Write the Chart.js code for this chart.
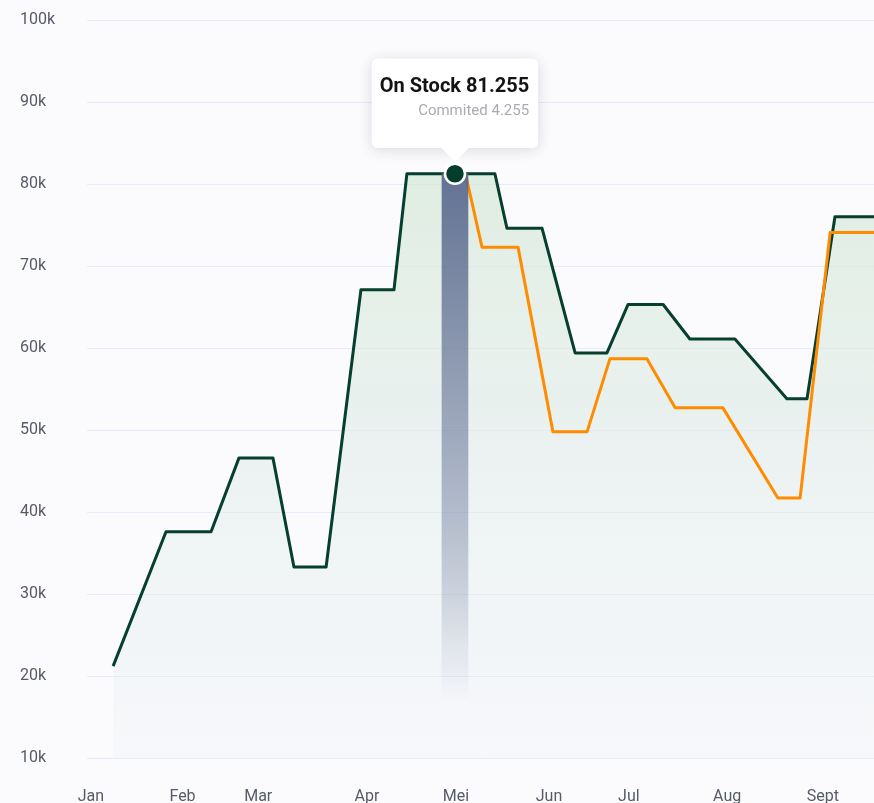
<!DOCTYPE html>
<html>
<head>
<meta charset="utf-8">
<title>Stock</title>
<script src="https://cdn.jsdelivr.net/npm/chart.js@4"></script>
<style>
  html, body { margin: 0; padding: 0; background: #fbfbfd; overflow: hidden; }
  .wrap { width: 874px; height: 803px; position: relative; }
</style>
</head>
<body>
<div class="wrap"><canvas id="stockChart"></canvas></div>
<script>
// x values are day numbers, y values are in thousands
const monthLabels = ["Jan", "Feb", "Mar", "Apr", "Mei", "Jun", "Jul", "Aug", "Sept"]
const monthDays = [1.3, 31.8, 57, 93.2, 122.8, 153.8, 180.4, 213.1, 245]

const stockDays = [8.7, 26.3, 41.3, 50.6, 61.9, 68.9, 79.6, 91.2, 102.2, 106.5, 122.5, 135.8, 139.8, 151.5,
  162.5, 173.1, 180.1, 191.8, 200.7, 215.7, 233, 239.7, 249, 262]
const stockValues = [21.2, 37.6, 37.6, 46.6, 46.6, 33.3, 33.3, 67.1, 67.1, 81.255, 81.255, 81.255, 74.6, 74.6,
  59.4, 59.4, 65.3, 65.3, 61.1, 61.1, 53.8, 53.8, 76, 76]

const committedDays = [126, 131.5, 143.5, 155.1, 166.5, 174.1, 186.4, 195.8, 211.7, 230, 237.4, 247.4, 262]
const committedValues = [81.255, 72.3, 72.3, 49.8, 49.8, 58.7, 58.7, 52.7, 52.7, 41.7, 41.7, 74.1, 74.1]

// highlighted day (Mei)
const highlightDay = 122.5
const highlightStock = 81.255
const highlightCommitted = 4.255
const highlightBase = 17

const toPoints = (xs, ys) => xs.map((x, i) => ({ x: x, y: ys[i] }))

const fontFamily = "Roboto, 'Noto Sans', sans-serif"

function stockFill(context) {
  const chart = context.chart
  const area = chart.chartArea
  if (!area) return "rgba(220,235,220,0.5)"
  const g = chart.ctx.createLinearGradient(0, area.top, 0, area.bottom)
  g.addColorStop(0, "rgba(208,230,204,0.8)")
  g.addColorStop(0.5, "rgba(220,234,228,0.6)")
  g.addColorStop(1, "rgba(232,238,244,0.25)")
  return g
}

function highlightFill(context) {
  const chart = context.chart
  if (!chart.chartArea) return "rgba(88,102,142,0.8)"
  const y = chart.scales.y
  const g = chart.ctx.createLinearGradient(0, y.getPixelForValue(highlightStock), 0, y.getPixelForValue(highlightBase))
  g.addColorStop(0, "rgba(86,100,140,0.9)")
  g.addColorStop(0.7, "rgba(86,100,140,0.35)")
  g.addColorStop(1, "rgba(86,100,140,0)")
  return g
}

// soft shadow behind the tooltip box
const tooltipShadow = {
  id: "tooltipShadow",
  beforeTooltipDraw(chart, args) {
    const t = args.tooltip
    if (!t.opacity) return
    const ctx = chart.ctx
    ctx.save()
    ctx.shadowColor = "rgba(30,40,60,0.16)"
    ctx.shadowBlur = 14
    ctx.shadowOffsetY = 2
    ctx.fillStyle = "#fff"
    ctx.beginPath()
    ctx.roundRect(t.x, t.y, t.width, t.height, 6)
    ctx.fill()
    ctx.restore()
  }
}

const ctx = document.getElementById("stockChart")

const myChart = new Chart(ctx, {
  type: "line",
  data: {
    datasets: [
      {
        type: "scatter",
        data: [{ x: highlightDay, y: highlightStock }],
        pointRadius: 10,
        pointHoverRadius: 10,
        pointBackgroundColor: "#043d2c",
        pointBorderColor: "#ffffff",
        pointBorderWidth: 2.5,
        pointHoverBorderWidth: 2.5,
        order: 0
      },
      {
        type: "bar",
        data: [{ x: highlightDay, y: [highlightBase, highlightStock] }],
        backgroundColor: highlightFill,
        barThickness: 26,
        borderWidth: 0,
        order: 1
      },
      {
        label: "Commited",
        data: toPoints(committedDays, committedValues),
        borderColor: "#ff8c00",
        borderWidth: 3,
        borderJoinStyle: "round",
        pointRadius: 0,
        tension: 0,
        fill: false,
        order: 2
      },
      {
        label: "On Stock",
        data: toPoints(stockDays, stockValues),
        borderColor: "#063f2e",
        borderWidth: 3,
        borderJoinStyle: "round",
        pointRadius: 0,
        tension: 0,
        fill: "start",
        backgroundColor: stockFill,
        order: 3
      }
    ]
  },
  options: {
    responsive: true,
    maintainAspectRatio: false,
    animation: false,
    events: [],
    layout: { autoPadding: false, padding: { top: 20, left: 20, right: 0, bottom: 0 } },
    plugins: {
      legend: { display: false },
      tooltip: {
        backgroundColor: "#ffffff",
        titleColor: "#141414",
        titleFont: { family: fontFamily, size: 20, weight: "bold" },
        bodyColor: "#a8acb2",
        bodyFont: { family: fontFamily, size: 15 },
        bodyAlign: "right",
        titleMarginBottom: 4,
        padding: { top: 16, bottom: 27, left: 8, right: 9 },
        cornerRadius: 6,
        caretSize: 14,
        caretPadding: 12,
        xAlign: "center",
        yAlign: "bottom",
        displayColors: false,
        callbacks: {
          title: () => "On Stock " + highlightStock.toFixed(3),
          label: () => "Commited " + highlightCommitted.toFixed(3)
        }
      }
    },
    scales: {
      x: {
        type: "linear",
        min: 0,
        max: 262,
        offset: false,
        grid: { display: false },
        border: { display: false },
        afterBuildTicks: (scale) => {
          scale.ticks = monthDays.map(d => ({ value: d }))
        },
        afterFit: (scale) => {
          scale.height = 45
          scale.paddingLeft = 0
          scale.paddingRight = 0
        },
        ticks: {
          autoSkip: false,
          maxRotation: 0,
          padding: 21,
          color: "#565b66",
          font: { family: fontFamily, size: 16 },
          callback: (value, index) => monthLabels[index]
        }
      },
      y: {
        min: 10,
        max: 100,
        grid: { color: "#e7eafa", lineWidth: 1, drawTicks: false },
        border: { display: false },
        afterFit: (scale) => { scale.width = 67 },
        ticks: {
          stepSize: 10,
          crossAlign: "far",
          color: "#565b66",
          font: { family: fontFamily, size: 16 },
          callback: (v) => v + "k"
        }
      }
    }
  },
  plugins: [tooltipShadow]
})

myChart.tooltip.setActiveElements([{ datasetIndex: 0, index: 0 }], { x: 455, y: 173 })
myChart.update()
</script>
</body>
</html>
